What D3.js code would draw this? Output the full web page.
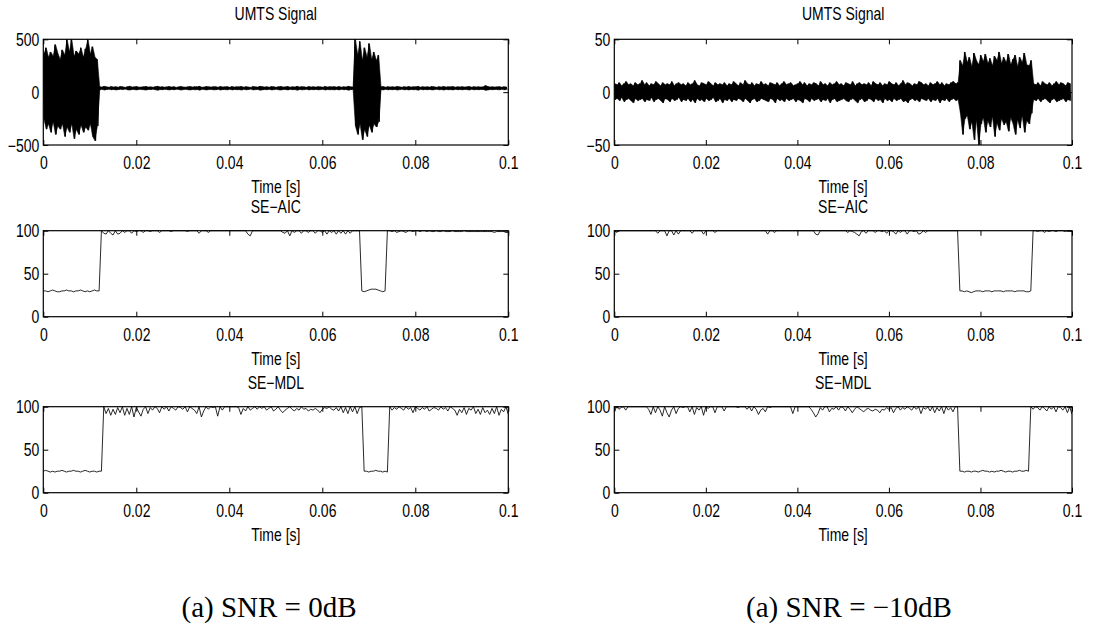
<!DOCTYPE html>
<html><head><meta charset="utf-8">
<script src="https://cdn.jsdelivr.net/npm/d3@7"></script>
<style>body{margin:0;background:#fff}svg{display:block}</style>
</head><body>
<svg id="chart" width="1109" height="628"></svg>
<script>
// ---------- tick values / labels ----------
const xTicks = [0, 0.02, 0.04, 0.06, 0.08, 0.1];
const xTickLabels = ["0", "0.02", "0.04", "0.06", "0.08", "0.1"];
const yTicksSig0 = [-500, 0, 500];
const yLabelsSig0 = ["\u2212500", "0", "500"];
const yTicksSig10 = [-50, 0, 50];
const yLabelsSig10 = ["\u221250", "0", "50"];
const yTicksPct = [0, 50, 100];
const yLabelsPct = ["0", "50", "100"];
const panelTitles = ["UMTS Signal", "SE\u2212AIC", "SE\u2212MDL"];
const xAxisLabel = "Time [s]";
const captions = ["(a) SNR = 0dB", "(a) SNR = \u221210dB"];

// ---------- signal envelopes (step 0.0005 s, max then min per step) ----------
const sigStep = 0.0005;
const sig0Hi = [360,420,330,380,340,450,370,310,400,350,500,380,500,340,390,360,420,330,410,500,360,430,330,310,
52,48,55,50,46,53,49,51,47,54,
50,45,52,56,48,50,53,47,49,51,
54,48,50,46,52,55,49,51,47,50,
53,48,52,45,50,54,49,47,51,53,
48,52,50,55,46,49,53,50,48,52,
51,47,54,49,50,52,46,53,48,51,
50,54,47,52,49,45,53,50,48,55,
52,49,51,47,53,50,46,52,54,48,
50,53,47,51,49,55,48,52,50,46,
53,49,51,48,52,50,47,54,49,51,
50,52,48,53,47,51,49,55,50,48,
500,350,480,300,420,330,460,310,380,300,350,
50,53,47,52,49,51,48,54,50,46,
52,49,53,48,51,50,55,47,52,49,
51,48,53,50,46,52,49,54,48,51,
50,53,47,51,49,52,48,50,54,47,
52,49,51,48,50,62,53,49,51,48,
50,52,47,51,49];
const sig0Lo = [-250,-350,-300,-380,-280,-400,-320,-350,-300,-420,-330,-380,-300,-440,-350,-400,-310,-380,-330,-360,-300,-420,-460,-320,
22,27,20,25,28,23,26,21,24,27,
25,29,22,20,26,24,21,27,25,23,
20,26,24,28,22,19,25,23,27,24,
21,26,22,28,25,20,24,27,23,21,
26,22,25,19,28,24,21,25,26,22,
23,27,20,25,24,22,28,21,26,23,
24,20,27,22,25,29,21,24,26,19,
22,25,23,27,21,24,28,22,20,26,
24,21,27,23,25,19,26,22,24,28,
21,25,23,26,22,24,27,20,25,23,
24,22,26,21,27,23,25,19,24,26,
-320,-400,-300,-450,-350,-420,-310,-380,-300,-330,-280,
24,21,27,22,25,23,26,20,24,28,
22,25,21,26,23,24,19,27,22,25,
23,26,21,24,28,22,25,20,26,23,
24,21,27,23,25,22,26,24,20,27,
22,25,23,26,24,18,21,25,23,26,
24,22,27,23,25];
const sig10Hi = [8,7,9,6,8,10,7,8,6,9,
7,8,11,7,9,6,8,7,10,8,
6,9,7,8,7,10,6,8,9,7,
8,6,9,7,8,11,7,6,9,8,
7,10,8,6,9,7,8,7,9,6,
8,7,10,8,6,9,7,11,8,7,
9,6,8,7,10,7,8,6,9,8,
7,9,6,8,10,7,8,9,6,7,
8,10,7,9,6,8,7,9,8,6,
10,7,8,6,9,7,8,10,7,8,
6,9,8,7,10,6,8,9,7,8,
7,9,6,10,8,7,9,6,8,7,
10,8,7,9,6,8,11,7,9,8,
6,8,7,10,9,7,8,6,9,7,
8,10,7,9,6,8,7,9,10,8,
9,
30,25,38,28,33,24,37,30,26,35,29,36,27,32,25,34,30,38,27,33,28,36,26,31,35,24,33,28,37,26,25,30,
8,7,9,6,10,8,7,9,6,8,10,7,9,8,6,9,8];
const sig10Lo = [-7,-6,-8,-5,-9,-7,-6,-8,-10,-6,
-8,-7,-6,-9,-7,-8,-5,-9,-7,-6,
-8,-10,-6,-7,-9,-6,-8,-7,-5,-9,
-7,-8,-6,-9,-7,-10,-6,-8,-7,-9,
-6,-8,-7,-5,-9,-8,-6,-10,-7,-8,
-6,-9,-7,-8,-6,-7,-9,-6,-8,-10,
-7,-6,-9,-8,-6,-7,-8,-9,-6,-7,
-10,-6,-8,-7,-9,-6,-8,-7,-6,-9,
-7,-8,-10,-6,-7,-9,-6,-8,-7,-6,
-9,-7,-8,-6,-10,-7,-6,-9,-8,-7,
-6,-8,-9,-7,-6,-8,-10,-7,-6,-9,
-8,-6,-7,-9,-6,-8,-7,-10,-6,-8,
-7,-9,-6,-8,-7,-6,-9,-8,-10,-7,
-6,-8,-7,-9,-6,-7,-8,-6,-9,-7,
-8,-6,-10,-7,-8,-6,-9,-7,-6,-8,
-7,
-20,-40,-25,-22,-35,-28,-45,-26,-50,-30,-24,-38,-27,-33,-23,-42,-29,-36,-25,-31,-28,-37,-24,-30,-40,-26,-34,-22,-38,-27,-30,-20,
-7,-8,-6,-9,-7,-6,-8,-10,-7,-6,-9,-8,-7,-6,-9,-7,-8];

// ---------- detection curves (step 0.0005 s, t = 0 .. 0.1) ----------
const detStep = 0.0005;
const aic0 = [30,30,29,30,31,30,29,29,30,30,31,30,30,29,30,30,31,30,29,30,29,30,31,30,30,
100,
97,96,100,97,95,100,96,97,100,98,
100,100,97,100,99,100,100,98,100,100,
99,100,100,100,98,100,100,100,100,99,
100,100,100,100,100,100,99,100,100,100,
100,97,100,100,100,98,100,100,100,100,
100,100,100,100,100,100,100,100,100,100,
100,100,96,94,100,100,100,100,100,100,
100,100,100,100,100,100,100,98,97,100,
94,100,98,100,100,97,100,100,98,100,
100,97,100,100,98,100,96,100,98,100,
96,100,97,100,96,100,97,100,100,100,100,
30,29,30,31,32,32,32,31,30,29,30,
100,100,99,100,98,99,100,99,98,100,
100,99,100,100,99,100,100,99,100,99,
99,100,99,99,100,99,99,99,100,99,
99,99,99,100,99,99,99,99,99,99,
99,99,99,99,99,99,98,99,99,99,
99,98,98];
const mdl0 = [25,26,25,24,25,24,25,25,26,25,24,25,25,26,25,25,24,25,26,25,24,25,25,24,25,25,
100,
92,98,90,97,91,99,93,100,90,98,
91,100,88,99,94,89,97,100,92,99,
96,100,98,93,100,97,100,95,100,98,
96,100,99,97,100,94,100,98,96,92,
100,88,95,100,97,100,99,100,89,100,
96,100,100,100,100,100,100,99,91,98,
95,100,96,98,100,97,100,98,100,96,
98,100,95,97,100,96,93,96,98,100,
97,95,98,96,100,97,98,95,97,96,
98,96,93,97,99,98,100,97,96,99,
95,100,93,99,92,100,94,100,92,99,100,
25,25,24,25,25,26,25,25,24,25,24,
100,
96,99,97,100,98,96,100,97,99,93,
100,98,96,99,97,100,95,97,99,98,
96,100,97,99,95,100,98,96,90,97,
93,99,91,98,96,100,92,97,91,99,
93,96,91,98,92,100,90,97,94,100,
91];
const aic10 = [100,98,100,100,100,100,100,100,100,100,
100,100,100,100,100,100,100,100,100,97,
100,100,100,94,100,100,95,100,96,100,
100,100,100,100,97,100,100,100,100,96,
100,100,100,100,98,100,100,100,100,100,
100,100,100,100,100,100,100,100,100,100,
100,100,100,100,100,100,100,96,100,100,
98,100,100,100,100,100,100,100,100,100,
100,100,100,100,100,100,100,100,96,95,
100,100,100,100,100,100,100,100,100,100,
100,100,98,100,99,98,96,94,99,100,
97,100,100,100,98,100,100,99,100,97,
100,100,99,96,100,98,100,100,96,100,
100,99,100,96,97,100,98,100,100,100,
100,100,100,100,100,100,100,100,100,100,100,
30,30,29,30,29,28,29,30,30,30,29,30,30,30,29,30,30,30,30,29,30,30,30,30,29,30,30,30,30,29,29,30,
100,100,99,100,100,98,100,99,100,100,99,100,100,100,99,100,100,99];
const mdl10 = [94,100,97,99,100,96,100,100,100,100,
100,100,100,100,100,97,91,100,93,100,
96,89,100,93,88,96,100,92,98,100,
99,100,100,94,100,91,99,96,100,90,
100,98,100,100,93,100,100,100,95,100,
100,100,100,100,99,100,100,100,97,100,
95,100,97,91,96,98,94,100,99,100,
100,100,100,100,100,100,100,100,92,100,
100,100,100,100,100,100,97,93,88,92,
99,96,100,100,94,98,97,100,96,100,
99,95,100,97,93,97,100,98,96,94,
97,98,96,95,97,96,93,97,96,99,
97,99,93,98,100,96,99,97,100,98,
96,100,97,100,92,99,97,100,95,100,
93,99,95,100,92,100,96,99,94,100,100,
25,25,24,25,25,24,25,25,24,25,26,25,25,24,25,24,25,25,26,25,24,25,25,24,25,25,26,25,25,26,25,
100,97,100,99,96,100,98,95,100,97,100,94,100,99,96,100,93,100,91];

// ---------- layout ----------
const cols = [{x0: 43.3, x1: 508.3}, {x0: 614.3, x1: 1072}];
const rows = [{y0: 39.3, y1: 145}, {y0: 230.7, y1: 316.7}, {y0: 406.7, y1: 492.7}];
const SY = 1.25;              // vertical stretch of the sans text
const sans = "'Liberation Sans', Arial, Helvetica, sans-serif";
const svg = d3.select("#chart");

function stretchText(sel, dx, dy, anchor) {
  sel.attr("x", null).attr("y", null).attr("dy", null)
     .attr("transform", `translate(${dx},${dy}) scale(1,${SY})`)
     .attr("text-anchor", anchor)
     .attr("fill", "#000")
     .style("font-family", sans).style("font-size", "14px");
}

let clipId = 0;
function panel(ci, ri, yDomain, yTicks, yLabels, drawFn) {
  const c = cols[ci], r = rows[ri];
  const x = d3.scaleLinear().domain([0, 0.1]).range([c.x0, c.x1]);
  const y = d3.scaleLinear().domain(yDomain).range([r.y1, r.y0]);
  const g = svg.append("g");
  const id = "clip" + (clipId++);
  g.append("clipPath").attr("id", id).append("rect")
    .attr("x", c.x0).attr("y", r.y0 - 1).attr("width", c.x1 - c.x0).attr("height", r.y1 - r.y0 + 2);
  const dataG = g.append("g").attr("clip-path", `url(#${id})`);
  drawFn(dataG, x, y);

  const tl = 5;
  const bottom = g.append("g").attr("transform", `translate(0,${r.y1})`)
    .call(d3.axisBottom(x).tickValues(xTicks).tickFormat((d, i) => xTickLabels[i]).tickSizeInner(-tl).tickSizeOuter(0));
  bottom.selectAll(".tick text").call(stretchText, 0, 24, "middle");
  const top = g.append("g").attr("transform", `translate(0,${r.y0})`)
    .call(d3.axisTop(x).tickValues(xTicks).tickFormat("").tickSizeInner(-tl).tickSizeOuter(0));
  const left = g.append("g").attr("transform", `translate(${c.x0},0)`)
    .call(d3.axisLeft(y).tickValues(yTicks).tickFormat((d, i) => yLabels[i]).tickSizeInner(-tl).tickSizeOuter(0));
  left.selectAll(".tick text").call(stretchText, -4, 6.2, "end");
  const right = g.append("g").attr("transform", `translate(${c.x1},0)`)
    .call(d3.axisRight(y).tickValues(yTicks).tickFormat("").tickSizeInner(-tl).tickSizeOuter(0));
  [bottom, top, left, right].forEach(a => {
    a.select(".domain").remove();
    a.selectAll(".tick line").attr("stroke", "#000").attr("stroke-width", 1);
  });
  g.append("rect").attr("x", c.x0).attr("y", r.y0).attr("width", c.x1 - c.x0).attr("height", r.y1 - r.y0)
    .attr("fill", "none").attr("stroke", "#000").attr("stroke-width", 1.2);

  const cx = (c.x0 + c.x1) / 2;
  g.append("text").text(panelTitles[ri]).call(stretchText, cx, r.y0 - (ri === 0 ? 19 : 17.5), "middle");
  g.append("text").text(xAxisLabel).call(stretchText, cx, r.y1 + 48, "middle");
}

function drawSignal(hi, lo) {
  return (g, x, y) => {
    // solid band between the per-step maxima and minima
    g.append("path").datum(hi)
      .attr("d", d3.area().x((d, i) => x((i + 0.25) * sigStep)).y0((d, i) => y(lo[i])).y1(d => y(d)))
      .attr("fill", "#000").attr("stroke", "#000").attr("stroke-width", 0.6);
    // oscillating trace on top
    const pts = [];
    hi.forEach((h, i) => {
      pts.push([i * sigStep, h]);
      pts.push([(i + 0.5) * sigStep, lo[i]]);
    });
    g.append("path").datum(pts)
      .attr("d", d3.line().x(d => x(d[0])).y(d => y(d[1])))
      .attr("fill", "none").attr("stroke", "#000").attr("stroke-width", 0.9);
  };
}
function drawDetect(vals) {
  return (g, x, y) => {
    g.append("path").datum(vals)
      .attr("d", d3.line().x((d, i) => x(i * detStep)).y(d => y(d)))
      .attr("fill", "none").attr("stroke", "#111").attr("stroke-width", 0.9);
  };
}

panel(0, 0, [-500, 500], yTicksSig0, yLabelsSig0, drawSignal(sig0Hi, sig0Lo));
panel(0, 1, [0, 100], yTicksPct, yLabelsPct, drawDetect(aic0));
panel(0, 2, [0, 100], yTicksPct, yLabelsPct, drawDetect(mdl0));
panel(1, 0, [-50, 50], yTicksSig10, yLabelsSig10, drawSignal(sig10Hi, sig10Lo));
panel(1, 1, [0, 100], yTicksPct, yLabelsPct, drawDetect(aic10));
panel(1, 2, [0, 100], yTicksPct, yLabelsPct, drawDetect(mdl10));

const capX = [269, 849];
captions.forEach((t, i) => {
  svg.append("text").text(t).attr("x", capX[i]).attr("y", 617)
    .attr("text-anchor", "middle").attr("fill", "#000")
    .style("font-family", "'Liberation Serif', 'Times New Roman', serif").style("font-size", "29px");
});
</script>
</body></html>
